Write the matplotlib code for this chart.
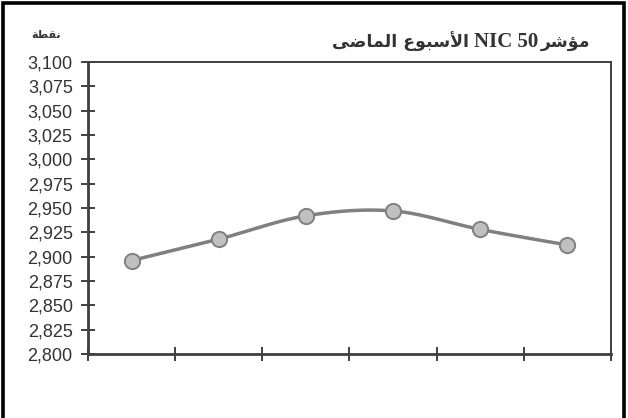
import numpy as np
import matplotlib
matplotlib.use("Agg")
from matplotlib import pyplot as plt
from matplotlib.patches import Rectangle
from matplotlib.ticker import FuncFormatter

# NIC 50 closing points, last week
days = [0, 1, 2, 3, 4, 5]
points = [2896, 2918, 2942, 2947, 2928, 2912]
y_ticks = list(range(2800, 3101, 25))

# Arabic text in presentation forms, visual (left-to-right) order
word_index = "\uFEAE\uFEB7\uFE86\uFEE3"            # مؤشر
word_week = "\uFEC9\uFEEE\uFE92\uFEB3\uFEF7\uFE8D"   # الأسبوع
word_last = "\uFEF0\uFEBF\uFE8E\uFEE4\uFEDF\uFE8D"   # الماضى
latin_part = "NIC 50"
unit_text = "\uFE94\uFEC4\uFED8\uFEE7"               # نقطة

AXIS = "#404040"
LINE = "#808080"
MARKER = "#C0C0C0"
TEXT = "#333333"


def smooth(xs, ys, n=30):
    # catmull-rom style smoothing, like the spreadsheet's smoothed line
    xs = np.asarray(xs, float)
    ys = np.asarray(ys, float)
    px = np.concatenate([[xs[0]], xs, [xs[-1]]])
    py = np.concatenate([[ys[0]], ys, [ys[-1]]])
    out_x, out_y = [], []
    for i in range(1, len(px) - 2):
        t = np.linspace(0, 1, n)
        for arr, out in ((px, out_x), (py, out_y)):
            p0, p1, p2, p3 = arr[i - 1], arr[i], arr[i + 1], arr[i + 2]
            b1 = p1 + (p2 - p0) / 6.0
            b2 = p2 - (p3 - p1) / 6.0
            out.extend((1 - t) ** 3 * p1 + 3 * (1 - t) ** 2 * t * b1
                       + 3 * (1 - t) * t ** 2 * b2 + t ** 3 * p2)
    return out_x, out_y


fig = plt.figure(figsize=(6.28, 4.18), dpi=100)
fig.patch.set_facecolor("white")

# outer black frame
fig.patches.append(Rectangle((3.5 / 628, -0.05), 620 / 628, 1.05 - 3.5 / 418,
                             transform=fig.transFigure, fill=False,
                             edgecolor="black", linewidth=2.6))

ax = fig.add_axes([88 / 628, 1 - 354 / 418, (611 - 88) / 628, (354 - 62) / 418])

sx, sy = smooth(days, points)
ax.plot(sx, sy, color=LINE, linewidth=2.5, solid_capstyle="round", zorder=2)
ax.plot(days, points, linestyle="none", marker="o", markersize=11,
        markerfacecolor=MARKER, markeredgecolor=LINE, markeredgewidth=1.4,
        zorder=3)

ax.set_xlim(-0.5, 5.5)
ax.set_ylim(2800, 3100)
ax.set_yticks(y_ticks)
ax.yaxis.set_major_formatter(FuncFormatter(lambda v, p: f"{int(v):,}"))
ax.set_xticks(np.arange(-0.5, 5.6, 1))
ax.set_xticklabels([])

ax.tick_params(axis="both", direction="inout", length=10, width=1.4,
               color=AXIS)
ax.tick_params(axis="y", labelsize=13, labelcolor=TEXT, pad=6)
for lab in ax.get_yticklabels():
    lab.set_family(["Liberation Sans", "DejaVu Sans"])

for side in ("left", "bottom"):
    ax.spines[side].set_color(AXIS)
    ax.spines[side].set_linewidth(2)
for side in ("top", "right"):
    ax.spines[side].set_color(AXIS)
    ax.spines[side].set_linewidth(1.4)

# title, laid out right to left in pieces:
# visual order is  الماضى الأسبوع NIC 50مؤشر
renderer = fig.canvas.get_renderer()
title_y = 1 - 42 / 418
pieces = [
    (word_index, "DejaVu Sans", 12.5, 0),
    (latin_part, "Liberation Serif", 15, 2),
    (word_last + " " + word_week, "DejaVu Sans", 12.5, 5),
]
right = 590
for text, fam, size, gap in pieces:
    right -= gap
    t = fig.text(right / 628, title_y, text, ha="right", va="center",
                 fontsize=size, fontweight="bold", color=TEXT, family=fam)
    right -= t.get_window_extent(renderer).width

fig.text(46 / 628, 1 - 35 / 418, unit_text, ha="center", va="center",
         fontsize=8, fontweight="bold", color=TEXT, family="DejaVu Sans")

fig.savefig("out.png", dpi=100, facecolor="white")
